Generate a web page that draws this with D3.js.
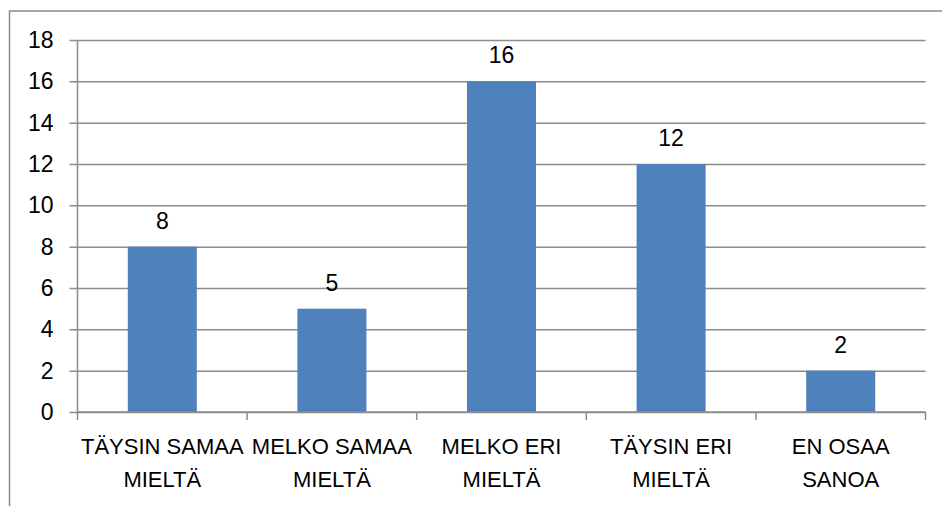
<!DOCTYPE html>
<html>
<head>
<meta charset="utf-8">
<script src="https://cdn.jsdelivr.net/npm/d3@7"></script>
<style>
  html, body { margin: 0; padding: 0; background: #fff; }
  svg { display: block; }
  text { font-family: "Liberation Sans", Arial, sans-serif; fill: #000; }
</style>
</head>
<body>
<div id="chart"></div>
<script>
// data
const categories = [
    ["TÄYSIN SAMAA", "MIELTÄ"],
    ["MELKO SAMAA", "MIELTÄ"],
    ["MELKO ERI", "MIELTÄ"],
    ["TÄYSIN ERI", "MIELTÄ"],
    ["EN OSAA", "SANOA"]
];
const values = [8, 5, 16, 12, 2];
const yTicks = [0, 2, 4, 6, 8, 10, 12, 14, 16, 18];

const width = 942, height = 506;
const plotLeft = 77.5, plotRight = 925.5, plotTop = 40, plotBottom = 412;
const gray = "#8c8c8c";
const fontSize = 23;

const svg = d3.select("#chart").append("svg")
    .attr("width", width)
    .attr("height", height);

// outer frame (runs past the bottom/right of the picture)
svg.append("rect")
    .attr("x", 9.5).attr("y", 11)
    .attr("width", 950).attr("height", 520)
    .attr("fill", "none")
    .attr("stroke", gray)
    .attr("stroke-width", 1.5);

const x = d3.scaleBand()
    .domain(d3.range(categories.length))
    .range([plotLeft, plotRight])
    .padding(0);

const y = d3.scaleLinear()
    .domain([0, 18])
    .range([plotBottom, plotTop]);

// gridlines + y labels
const yAxis = d3.axisLeft(y)
    .tickValues(yTicks)
    .tickSize(-(plotRight - plotLeft))
    .tickPadding(24)
    .tickFormat(d3.format("d"));

const gy = svg.append("g")
    .attr("transform", `translate(${plotLeft},0)`)
    .call(yAxis);
gy.select(".domain").remove();
gy.selectAll(".tick line")
    .attr("x1", -8)
    .attr("stroke", gray)
    .attr("stroke-width", 1.5);
gy.selectAll(".tick text")
    .attr("font-size", fontSize)
    .attr("font-family", "Liberation Sans, Arial, sans-serif")
    .attr("fill", "#000");

// y axis line
svg.append("line")
    .attr("x1", plotLeft).attr("x2", plotLeft)
    .attr("y1", plotTop).attr("y2", plotBottom)
    .attr("stroke", gray).attr("stroke-width", 1.5);

// bars
const barW = x.bandwidth() * 0.407;
svg.selectAll(".bar")
    .data(values)
    .join("rect")
    .attr("class", "bar")
    .attr("x", (d, i) => x(i) + (x.bandwidth() - barW) / 2)
    .attr("y", d => y(d))
    .attr("width", barW)
    .attr("height", d => y(0) - y(d))
    .attr("fill", "#4f81bd");

// data labels
svg.selectAll(".val")
    .data(values)
    .join("text")
    .attr("class", "val")
    .attr("x", (d, i) => x(i) + x.bandwidth() / 2)
    .attr("y", d => y(d) - 18)
    .attr("text-anchor", "middle")
    .attr("font-size", fontSize)
    .text(d => d);

// x axis line and ticks
svg.append("line")
    .attr("x1", plotLeft).attr("x2", plotRight)
    .attr("y1", plotBottom).attr("y2", plotBottom)
    .attr("stroke", gray).attr("stroke-width", 1.5);

const xTickPos = d3.range(categories.length + 1).map(i => i < categories.length ? x(i) : plotRight);
svg.selectAll(".xtick")
    .data(xTickPos)
    .join("line")
    .attr("class", "xtick")
    .attr("x1", d => d).attr("x2", d => d)
    .attr("y1", plotBottom).attr("y2", plotBottom + 8)
    .attr("stroke", gray).attr("stroke-width", 1.5);

// category labels, two lines each
const lab = svg.selectAll(".cat")
    .data(categories)
    .join("text")
    .attr("class", "cat")
    .attr("text-anchor", "middle")
    .attr("font-size", 22);
lab.selectAll("tspan")
    .data((d, i) => d.map(s => ({s: s, i: i})))
    .join("tspan")
    .attr("x", d => x(d.i) + x.bandwidth() / 2)
    .attr("y", (d, j) => 454 + j * 33)
    .text(d => d.s);
</script>
</body>
</html>
